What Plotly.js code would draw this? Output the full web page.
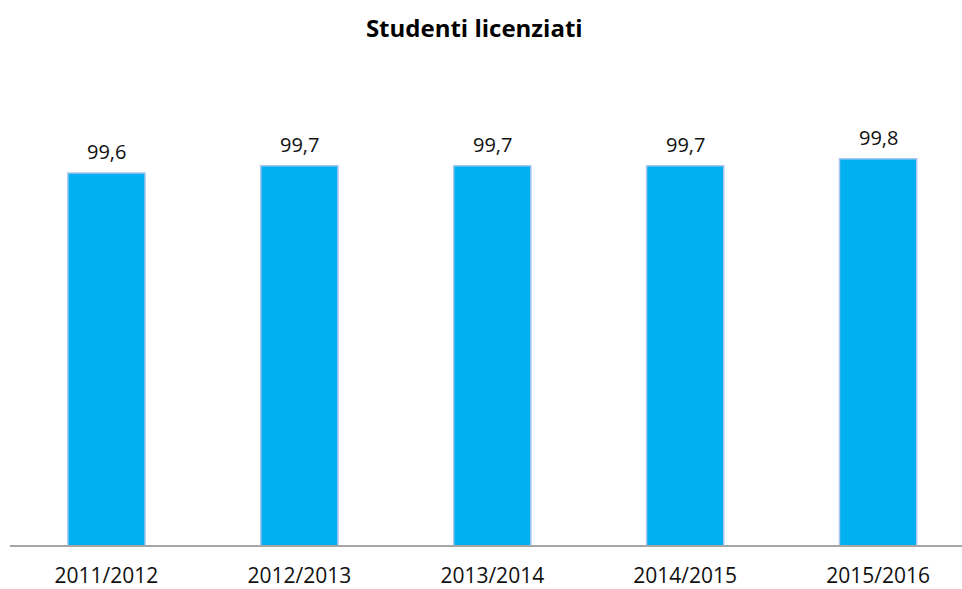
<!DOCTYPE html>
<html>
<head>
<meta charset="utf-8">
<script src="https://cdn.plot.ly/plotly-3.0.1.min.js"></script>
<style>html,body{margin:0;padding:0;background:#fff;}#chart{width:962px;height:589px;}</style>
</head>
<body>
<div id="chart"></div>
<script>
const categories = ["2011/2012", "2012/2013", "2013/2014", "2014/2015", "2015/2016"];
const values = [99.6, 99.7, 99.7, 99.7, 99.8];
const chartTitle = "Studenti licenziati";

const trace = {
  type: "bar",
  x: categories,
  y: values,
  width: 0.4,
  marker: {color: "#00B0F0", line: {color: "#A9C4EE", width: 1.5}},
  hoverinfo: "none"
};

const labelFont = {family: "Open Sans, sans-serif", size: 20, color: "#111"};
const annotations = categories.map((c, i) => ({
  x: c, y: values[i], xref: "x", yref: "y",
  text: values[i].toFixed(1).replace(".", ","),
  showarrow: false, yanchor: "bottom", yshift: 6, font: labelFont
}));

const layout = {
  width: 962, height: 589,
  margin: {l: 10, r: 0, t: 60, b: 44},
  paper_bgcolor: "#fff", plot_bgcolor: "#fff",
  title: {text: "<b>" + chartTitle + "</b>", x: 0.493, xanchor: "center", y: 0.952, yanchor: "middle",
          font: {family: "Open Sans, sans-serif", size: 24, color: "#000"}},
  showlegend: false,
  annotations: annotations,
  xaxis: {type: "category", range: [-0.5, 4.435], showline: true, linecolor: "#A6A6A6", linewidth: 1.5,
          showgrid: false, ticks: "", tickfont: {family: "Open Sans, sans-serif", size: 21, color: "#111"},
          ticklabelstandoff: 11, fixedrange: true},
  yaxis: {range: [94.4, 101.18], visible: false, showgrid: false, zeroline: false, fixedrange: true}
};

Plotly.newPlot("chart", [trace], layout, {displayModeBar: false, staticPlot: true});
</script>
</body>
</html>
